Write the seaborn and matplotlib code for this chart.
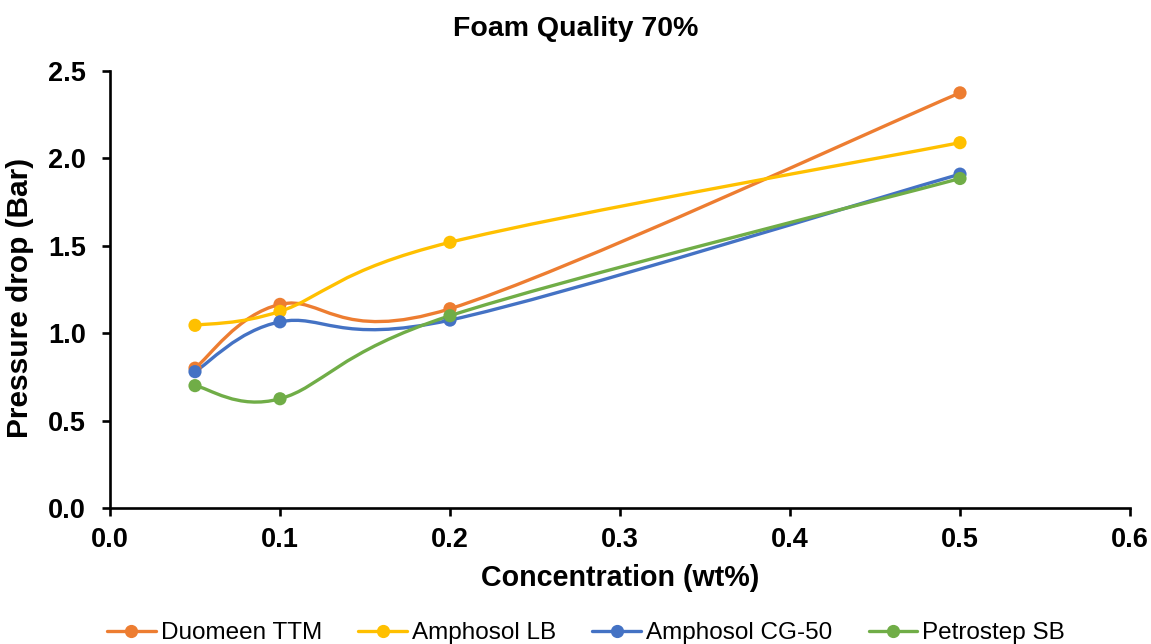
import numpy as np
import pandas as pd
import matplotlib
matplotlib.use("Agg")
import matplotlib.pyplot as plt
from matplotlib.path import Path
from matplotlib.patches import PathPatch
from matplotlib.lines import Line2D
import seaborn as sns

# data
concentration = [0.05, 0.1, 0.2, 0.5]
duomeen_ttm = [0.80, 1.165, 1.14, 2.375]
amphosol_lb = [1.045, 1.125, 1.52, 2.09]
amphosol_cg50 = [0.78, 1.065, 1.075, 1.91]
petrostep_sb = [0.70, 0.625, 1.10, 1.885]

series_names = ["Duomeen TTM", "Amphosol LB", "Amphosol CG-50", "Petrostep SB"]
colors = ["#ED7D31", "#FFC000", "#4472C4", "#70AD47"]

df = pd.DataFrame({
    "Concentration": concentration * 4,
    "Pressure": duomeen_ttm + amphosol_lb + amphosol_cg50 + petrostep_sb,
    "Surfactant": [n for n in series_names for _ in concentration],
})

sns.set_style("white")
plt.rcParams["font.family"] = ["Liberation Sans", "DejaVu Sans"]
plt.rcParams["text.color"] = "black"
plt.rcParams["axes.labelcolor"] = "black"

fig = plt.figure(figsize=(11.51, 6.44), dpi=100)
ax = fig.add_axes([110 / 1151, 136 / 644, 1020 / 1151, 437 / 644])


def smooth_path(xs, ys):
    # Excel-like smoothed line: cubic bezier through points (Catmull-Rom tangents)
    pts = np.column_stack([xs, ys]).astype(float)
    n = len(pts)
    verts = [pts[0]]
    codes = [Path.MOVETO]
    for i in range(n - 1):
        p_prev = pts[i - 1] if i > 0 else pts[i]
        p_next2 = pts[i + 2] if i + 2 < n else pts[i + 1]
        c1 = pts[i] + (pts[i + 1] - p_prev) / 6.0
        c2 = pts[i + 1] - (p_next2 - pts[i]) / 6.0
        verts += [c1, c2, pts[i + 1]]
        codes += [Path.CURVE4] * 3
    return Path(verts, codes)


for name, col in zip(series_names, colors):
    sub = df[df["Surfactant"] == name]
    patch = PathPatch(smooth_path(sub["Concentration"], sub["Pressure"]),
                      facecolor="none", edgecolor=col, lw=2.4,
                      capstyle="round", zorder=2)
    ax.add_patch(patch)
    sns.scatterplot(data=sub, x="Concentration", y="Pressure", color=col,
                    s=90, edgecolor="none", ax=ax, zorder=3, legend=False)

ax.set_xlim(0, 0.6)
ax.set_ylim(0, 2.5)
ax.set_xticks(np.arange(0, 0.61, 0.1))
ax.set_yticks(np.arange(0, 2.51, 0.5))
ax.xaxis.set_major_formatter(matplotlib.ticker.FormatStrFormatter("%.1f"))
ax.yaxis.set_major_formatter(matplotlib.ticker.FormatStrFormatter("%.1f"))

for s in ["top", "right"]:
    ax.spines[s].set_visible(False)
for s in ["left", "bottom"]:
    ax.spines[s].set_linewidth(1.9)
    ax.spines[s].set_color("black")

ax.tick_params(axis="both", direction="out", length=5.5, width=1.9,
               labelsize=19.5, colors="black", bottom=True, left=True)
ax.tick_params(axis="x", pad=8)
ax.tick_params(axis="y", pad=12)
for lbl in ax.get_xticklabels() + ax.get_yticklabels():
    lbl.set_fontweight("bold")

ax.set_xlabel("Concentration (wt%)", fontsize=20.6, fontweight="bold", labelpad=8)
ax.set_ylabel("Pressure drop (Bar)", fontsize=21.5, fontweight="bold")
ax.yaxis.set_label_coords(-76 / 1020, 0.48)
fig.text(0.5, 1 - 29 / 644, "Foam Quality 70%", ha="center", va="center",
         fontsize=20.5, fontweight="bold")

handles = [Line2D([0], [0], color=c, lw=2.4, marker="o", markersize=8.5)
           for c in colors]
fig.legend(handles, series_names, loc="center",
           bbox_to_anchor=(586 / 1151, 1 - 633 / 644), ncol=4, frameon=False,
           fontsize=17.5, handlelength=2.0, columnspacing=1.5, handletextpad=0.2)

fig.savefig("out.png", dpi=100)
